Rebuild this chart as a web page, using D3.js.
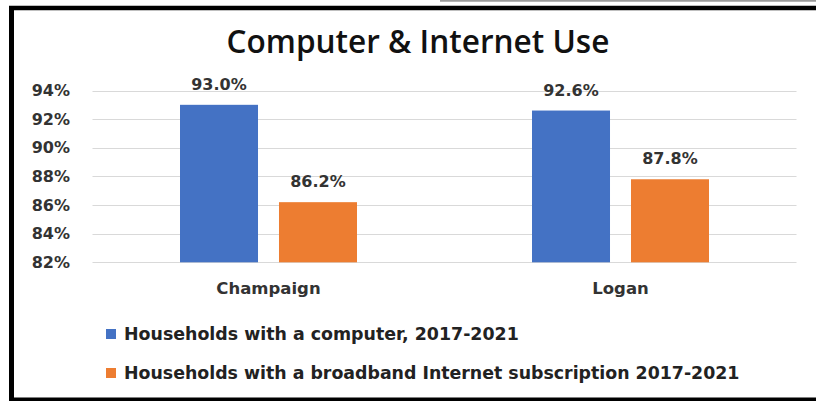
<!DOCTYPE html>
<html>
<head>
<meta charset="utf-8">
<script src="https://cdn.jsdelivr.net/npm/d3@7"></script>
<style>
  html, body { margin: 0; padding: 0; background: #fff; }
  svg { display: block; }
</style>
</head>
<body>
<svg id="chart" width="816" height="401"></svg>
<script>
// ---- data ----
const categories = ["Champaign", "Logan"];
const seriesNames = [
  "Households with a computer, 2017-2021",
  "Households with a broadband Internet subscription 2017-2021"
];
const computerValues = [93.0, 92.6];
const broadbandValues = [86.2, 87.8];
const tickValues = [82, 84, 86, 88, 90, 92, 94];
const titleText = "Computer & Internet Use";

const colors = ["#4472C4", "#ED7D31"];
const seriesValues = [computerValues, broadbandValues];

const svg = d3.select("#chart");
const W = 816, H = 401;

svg.append("rect").attr("width", W).attr("height", H).attr("fill", "#fff");

// frame
svg.append("line").attr("x1", 440).attr("x2", W).attr("y1", 0.8).attr("y2", 0.8)
  .attr("stroke", "#9a9a9a").attr("stroke-width", 1.8);
svg.append("line").attr("x1", 9).attr("x2", W).attr("y1", 8).attr("y2", 8)
  .attr("stroke", "#000").attr("stroke-width", 4.5);
svg.append("line").attr("x1", 11.5).attr("x2", 11.5).attr("y1", 6).attr("y2", H)
  .attr("stroke", "#000").attr("stroke-width", 5);
svg.append("line").attr("x1", 9).attr("x2", W).attr("y1", 399.5).attr("y2", 399.5)
  .attr("stroke", "#000").attr("stroke-width", 4);

function fitWidth(sel, target) {
  const node = sel.node();
  const fs = parseFloat(sel.attr("font-size"));
  const w = node.getComputedTextLength();
  if (w > 0) sel.attr("font-size", (fs * target / w).toFixed(2));
}

// title
const title = svg.append("text")
  .attr("x", 418).attr("y", 53)
  .attr("text-anchor", "middle")
  .attr("font-family", "'Open Sans', 'DejaVu Sans', sans-serif")
  .attr("font-weight", 600)
  .attr("font-size", 25)
  .attr("fill", "#111")
  .text(titleText);
fitWidth(title, 383);

// scales
const y = d3.scaleLinear().domain([82, 94]).range([262.3, 90.5]);
const x0 = d3.scaleBand().domain(categories).range([92.5, 796.5]).paddingInner(0).paddingOuter(0);
const x1 = d3.scaleBand().domain(d3.range(seriesValues.length))
  .range([87.5, 264.5]).paddingInner(0.212).paddingOuter(0);

const labelFont = "'DejaVu Sans', Verdana, sans-serif";

// gridlines
svg.append("g").selectAll("line").data(tickValues).join("line")
  .attr("x1", 92.5).attr("x2", 796.5)
  .attr("y1", d => Math.round(y(d)) + 0.5).attr("y2", d => Math.round(y(d)) + 0.5)
  .attr("stroke", "#d9d9d9").attr("stroke-width", 1);

// y axis labels
const yAxis = d3.axisLeft(y).tickValues(tickValues).tickSize(0).tickPadding(0)
  .tickFormat(d => d + "%");
const gy = svg.append("g").attr("transform", "translate(70,0)").call(yAxis);
gy.select(".domain").remove();
gy.selectAll("text")
  .attr("font-family", labelFont).attr("font-weight", 700)
  .attr("font-size", 16).attr("fill", "#333");

// x axis labels
const xAxis = d3.axisBottom(x0).tickSize(0).tickPadding(0);
const gx = svg.append("g").attr("transform", "translate(0,282)").call(xAxis);
gx.select(".domain").remove();
gx.selectAll("text")
  .attr("font-family", labelFont).attr("font-weight", 700)
  .attr("font-size", 16.5).attr("fill", "#333");

// bars
const groups = svg.append("g").selectAll("g").data(categories).join("g")
  .attr("transform", d => `translate(${x0(d)},0)`);

groups.selectAll("rect")
  .data((c, ci) => seriesValues.map((vals, si) => ({ si, v: vals[ci] })))
  .join("rect")
  .attr("x", d => x1(d.si))
  .attr("width", x1.bandwidth())
  .attr("y", d => y(d.v))
  .attr("height", d => y(82) - y(d.v))
  .attr("fill", d => colors[d.si]);

groups.selectAll("text.val")
  .data((c, ci) => seriesValues.map((vals, si) => ({ si, v: vals[ci] })))
  .join("text")
  .attr("class", "val")
  .attr("x", d => x1(d.si) + x1.bandwidth() / 2)
  .attr("y", d => y(d.v) - 15)
  .attr("text-anchor", "middle")
  .attr("font-family", labelFont).attr("font-weight", 700)
  .attr("font-size", 16).attr("fill", "#333")
  .text(d => d.v.toFixed(1) + "%");

// legend
const legendRows = [
  { name: seriesNames[0], color: colors[0], y: 334, width: 395 },
  { name: seriesNames[1], color: colors[1], y: 373, width: 616 }
];
const lg = svg.append("g").selectAll("g").data(legendRows).join("g")
  .attr("transform", d => `translate(0,${d.y})`);
lg.append("rect").attr("x", 106).attr("y", -5).attr("width", 10).attr("height", 10)
  .attr("fill", d => d.color);
lg.append("text")
  .attr("x", 124).attr("y", 0).attr("dy", "0.35em")
  .attr("font-family", labelFont).attr("font-weight", 700)
  .attr("font-size", 15).attr("fill", "#222")
  .text(d => d.name)
  .each(function(d) { fitWidth(d3.select(this), d.width); });
</script>
</body>
</html>
